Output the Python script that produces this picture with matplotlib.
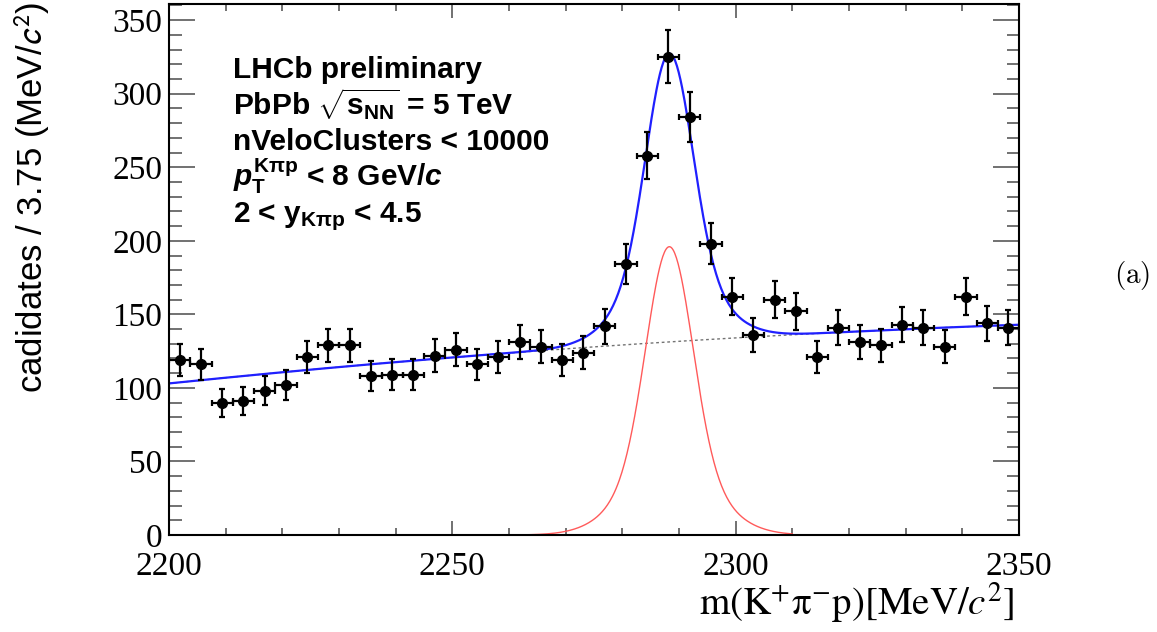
import numpy as np
import matplotlib
matplotlib.use('Agg')
import matplotlib.pyplot as plt
from matplotlib.ticker import MultipleLocator

# histogram: m(K+ pi- p), 40 bins of 3.75 MeV between 2200 and 2350
m_lo, m_hi, n_bins = 2200.0, 2350.0, 40
counts = [119, 116, 90, 91, 98, 102, 121, 129, 129, 108,
          109, 109, 122, 126, 116, 121, 131, 128, 119, 124,
          142, 184, 258, 325, 284, 198, 162, 136, 160, 152,
          121, 141, 131, 129, 143, 141, 128, 162, 144, 141]

# fit result
sig_mean = 2288.3
sig_peak = 196.0
sig_sigma_core = 4.0
sig_sigma_tail = 7.5
sig_frac_core = 0.75
bkg_coef = [127.9, 19.95, -4.9]   # quadratic in t = (m - 2275) / 75

info_lines = [
    'LHCb preliminary',
    r'PbPb $\sqrt{\mathrm{s}_{\mathrm{NN}}}$ = 5 TeV',
    'nVeloClusters < 10000',
    r'$\mathit{p}_{\mathrm{T}}^{\mathrm{K\pi p}}$ < 8 GeV/$\mathit{c}$',
    r'2 < $\mathrm{y}_{\mathrm{K\pi p}}$ < 4.5',
]


def background(m):
    t = (m - 2275.0) / 75.0
    return bkg_coef[0] + bkg_coef[1] * t + bkg_coef[2] * t ** 2


def signal(m):
    d = m - sig_mean
    core = sig_frac_core * np.exp(-0.5 * (d / sig_sigma_core) ** 2)
    tail = (1 - sig_frac_core) * np.exp(-0.5 * (d / sig_sigma_tail) ** 2)
    return sig_peak * (core + tail)


plt.rcParams['mathtext.rm'] = 'Liberation Sans:bold'
plt.rcParams['mathtext.it'] = 'Liberation Sans:italic:bold'
plt.rcParams['mathtext.bf'] = 'Liberation Sans:bold'
plt.rcParams['mathtext.sf'] = 'Liberation Sans:bold'

fig = plt.figure(figsize=(11.57, 6.32), dpi=100)
ax = fig.add_axes([169 / 1157, 1 - 535 / 632, 850 / 1157, 531 / 632])

width = (m_hi - m_lo) / n_bins
centers = m_lo + width * (np.arange(n_bins) + 0.5)
counts = np.array(counts, dtype=float)

m = np.linspace(m_lo, m_hi, 1000)
ax.plot(m, background(m), color='0.45', linestyle=(0, (2, 2)), linewidth=1.0)
ms = np.linspace(2250, 2310, 400)
ax.plot(ms, signal(ms), color='#ff5a5a', linewidth=1.0)
ax.plot(m, background(m) + signal(m), color='#2020ff', linewidth=1.6)

ax.errorbar(centers, counts, xerr=width / 2, yerr=np.sqrt(counts), fmt='o',
            color='black', markersize=7, elinewidth=1.6, capsize=2.5,
            capthick=1.6, zorder=5)

ax.set_xlim(m_lo, m_hi)
ax.set_ylim(0, 361)
ax.xaxis.set_major_locator(MultipleLocator(50))
ax.xaxis.set_minor_locator(MultipleLocator(10))
ax.yaxis.set_major_locator(MultipleLocator(50))
ax.yaxis.set_minor_locator(MultipleLocator(10))
ax.tick_params(which='both', direction='in', top=True, right=True,
               color='0.35', width=1.2)
ax.tick_params(axis='y', which='major', length=19, pad=5)
ax.tick_params(axis='y', which='minor', length=9)
ax.tick_params(axis='x', which='major', length=10, pad=12)
ax.tick_params(axis='x', which='minor', length=5)
for lab in ax.get_xticklabels() + ax.get_yticklabels():
    lab.set_fontfamily('Liberation Serif')
    lab.set_fontsize(24)
for sp in ax.spines.values():
    sp.set_linewidth(1.5)

ax.set_xlabel(r'$\mathrm{m(K^{+}\pi^{-}p)[MeV/}\mathit{c}^{2}\mathrm{]}$',
              fontsize=28, math_fontfamily='stix', ha='right', va='top')
ax.xaxis.set_label_coords(0.995, -0.085)

fig.text(32 / 1157, 1 - 2 / 632, r'cadidates / 3.75 (MeV/$\mathit{c}^{2}$)',
         rotation=90, ha='center', va='top', fontsize=25,
         family='Liberation Sans', math_fontfamily='stixsans')

baselines = [78, 115, 150, 186, 222]
for line, yb in zip(info_lines, baselines):
    ax.text((233 - 169) / 850, (535 - yb) / 531, line, transform=ax.transAxes,
            ha='left', va='baseline', fontsize=21.5, fontweight='bold',
            family='Liberation Sans', math_fontfamily='custom')

fig.text(1132 / 1157, 1 - 276 / 632, r'$\mathrm{(a)}$', ha='center',
         va='center', fontsize=21, math_fontfamily='cm')

fig.savefig('out.png', dpi=100)
